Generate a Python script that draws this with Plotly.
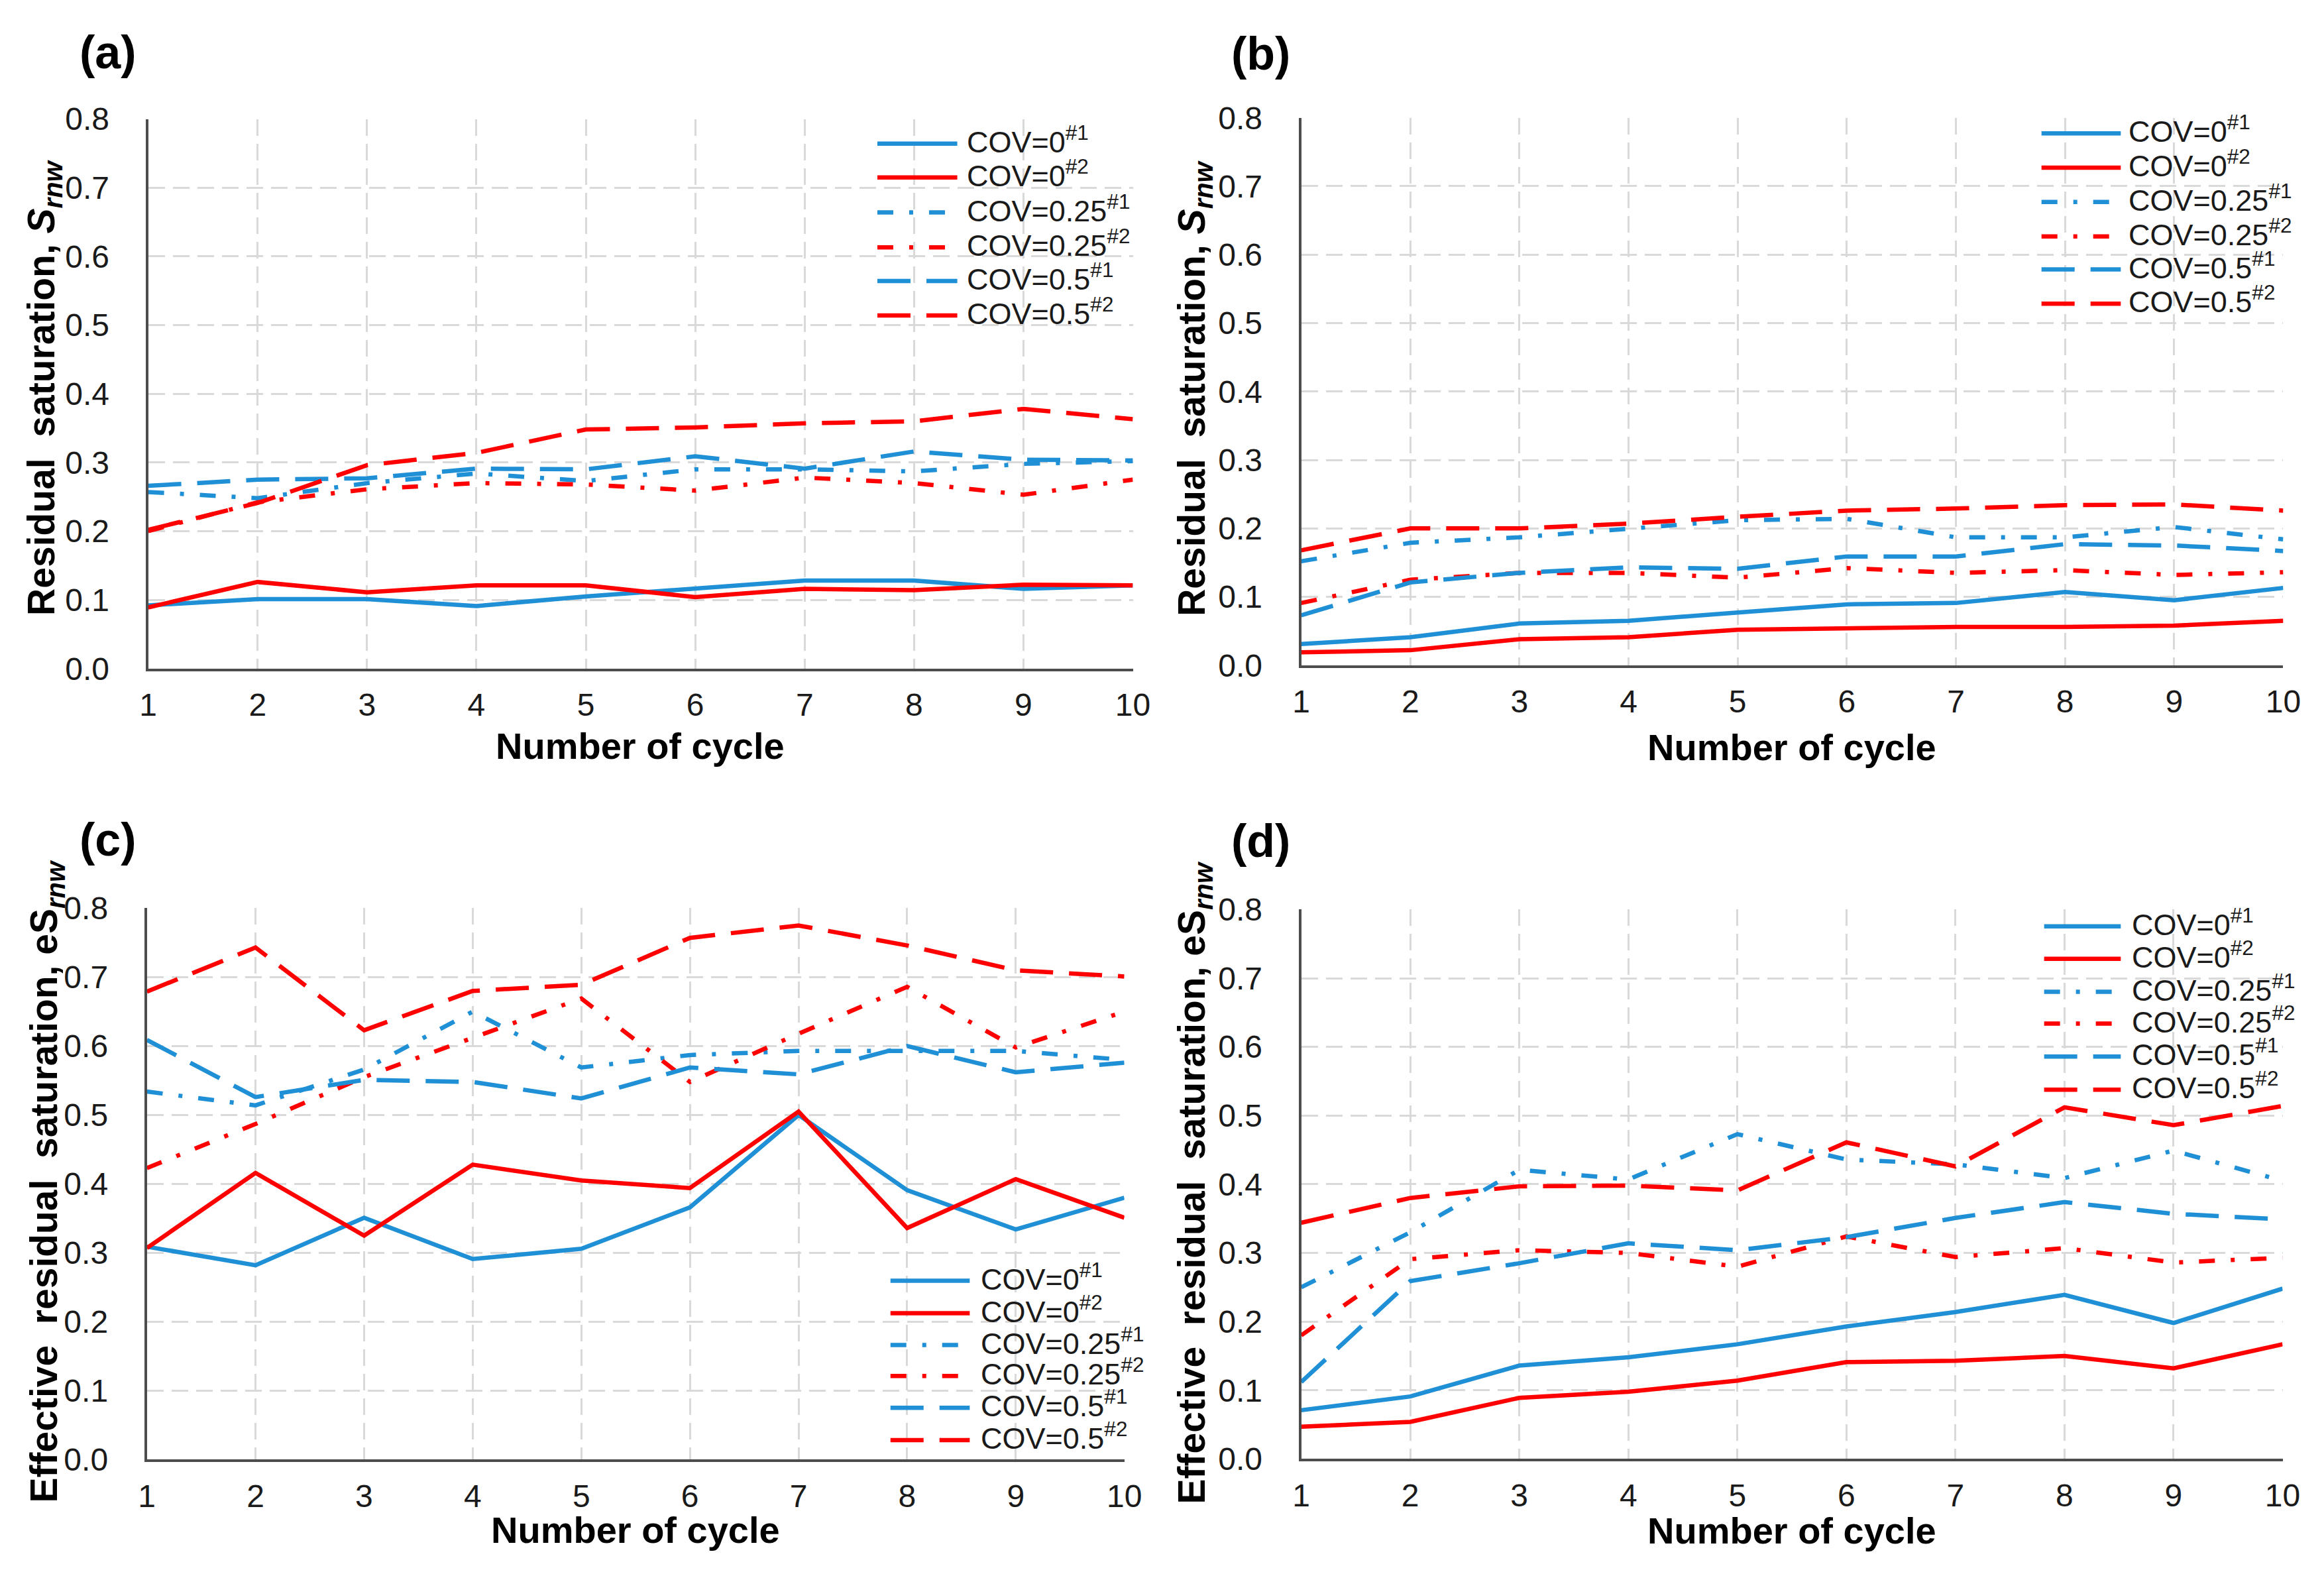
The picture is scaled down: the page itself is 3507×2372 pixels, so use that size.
import plotly.graph_objects as go

W, H = 3507, 2372

# ---------------- data ----------------
cycles = [1, 2, 3, 4, 5, 6, 7, 8, 9, 10]
tick_y = [0.0, 0.1, 0.2, 0.3, 0.4, 0.5, 0.6, 0.7, 0.8]

series_names = ["COV=0#1", "COV=0#2", "COV=0.25#1", "COV=0.25#2", "COV=0.5#1", "COV=0.5#2"]

# (a) Residual saturation, case 1
a_cov0_1 = [0.092, 0.101, 0.101, 0.091, 0.105, 0.117, 0.128, 0.128, 0.116, 0.121]
a_cov0_2 = [0.089, 0.126, 0.111, 0.121, 0.121, 0.104, 0.116, 0.114, 0.122, 0.121]
a_cov025_1 = [0.257, 0.248, 0.270, 0.284, 0.273, 0.290, 0.290, 0.287, 0.298, 0.302]
a_cov025_2 = [0.200, 0.242, 0.261, 0.270, 0.268, 0.259, 0.278, 0.270, 0.253, 0.275]
a_cov05_1 = [0.266, 0.275, 0.277, 0.291, 0.290, 0.309, 0.291, 0.316, 0.304, 0.303]
a_cov05_2 = [0.202, 0.241, 0.296, 0.314, 0.348, 0.351, 0.357, 0.360, 0.378, 0.363]

# (b) Residual saturation, case 2
b_cov0_1 = [0.031, 0.041, 0.061, 0.065, 0.077, 0.089, 0.091, 0.107, 0.095, 0.113]
b_cov0_2 = [0.019, 0.022, 0.038, 0.041, 0.052, 0.054, 0.056, 0.056, 0.058, 0.065]
b_cov025_1 = [0.152, 0.179, 0.187, 0.199, 0.212, 0.214, 0.187, 0.187, 0.202, 0.184]
b_cov025_2 = [0.091, 0.125, 0.135, 0.135, 0.128, 0.142, 0.135, 0.139, 0.132, 0.136]
b_cov05_1 = [0.073, 0.121, 0.135, 0.143, 0.141, 0.159, 0.159, 0.177, 0.175, 0.167]
b_cov05_2 = [0.168, 0.200, 0.200, 0.207, 0.217, 0.226, 0.229, 0.234, 0.235, 0.226]

# (c) Effective residual saturation, case 1
c_cov0_1 = [0.309, 0.282, 0.351, 0.291, 0.306, 0.366, 0.500, 0.391, 0.334, 0.380]
c_cov0_2 = [0.307, 0.416, 0.325, 0.428, 0.405, 0.394, 0.505, 0.336, 0.407, 0.351]
c_cov025_1 = [0.534, 0.514, 0.566, 0.650, 0.569, 0.587, 0.593, 0.593, 0.593, 0.580]
c_cov025_2 = [0.423, 0.487, 0.555, 0.612, 0.669, 0.548, 0.618, 0.686, 0.598, 0.650]
c_cov05_1 = [0.609, 0.526, 0.551, 0.548, 0.524, 0.569, 0.559, 0.600, 0.562, 0.576]
c_cov05_2 = [0.679, 0.743, 0.623, 0.680, 0.689, 0.757, 0.775, 0.746, 0.710, 0.701]

# (d) Effective residual saturation, case 2
d_cov0_1 = [0.071, 0.091, 0.136, 0.148, 0.167, 0.193, 0.214, 0.239, 0.198, 0.248]
d_cov0_2 = [0.047, 0.054, 0.089, 0.098, 0.114, 0.141, 0.143, 0.150, 0.132, 0.167]
d_cov025_1 = [0.250, 0.330, 0.421, 0.407, 0.473, 0.436, 0.429, 0.409, 0.449, 0.405]
d_cov025_2 = [0.180, 0.291, 0.304, 0.300, 0.280, 0.324, 0.294, 0.307, 0.286, 0.293]
d_cov05_1 = [0.112, 0.259, 0.285, 0.314, 0.304, 0.323, 0.351, 0.374, 0.357, 0.349]
d_cov05_2 = [0.344, 0.380, 0.397, 0.398, 0.391, 0.461, 0.426, 0.512, 0.486, 0.514]

panel_data = [
    [a_cov0_1, a_cov0_2, a_cov025_1, a_cov025_2, a_cov05_1, a_cov05_2],
    [b_cov0_1, b_cov0_2, b_cov025_1, b_cov025_2, b_cov05_1, b_cov05_2],
    [c_cov0_1, c_cov0_2, c_cov025_1, c_cov025_2, c_cov05_1, c_cov05_2],
    [d_cov0_1, d_cov0_2, d_cov025_1, d_cov025_2, d_cov05_1, d_cov05_2],
]
panel_labels = ["(a)", "(b)", "(c)", "(d)"]

# ---------------- styles ----------------
BLUE = "#1F8FD6"
RED = "#FF0000"
colors = [BLUE, RED, BLUE, RED, BLUE, RED]
DASHDOT = "24px,24px,6px,24px"
DASHED = "50px,24px"
dashes = ["solid", "solid", DASHDOT, DASHDOT, DASHED, DASHED]
LW = 6.5

TICKF = "Liberation Sans, Arial, sans-serif"
BOLDF = "Liberation Sans, Arial, sans-serif"

def px(x):
    return x / W

def py(y):
    return 1 - y / H

# plot areas in pixels: (left, right, top, bottom)
areas = [
    (205, 1708, 149, 997),
    (1965, 3464, 147, 992),
    (203, 1695, 1367, 2218),
    (1965, 3463, 1369, 2217),
]

fig = go.Figure()
layout = dict(
    width=W, height=H,
    margin=dict(l=0, r=0, t=0, b=0),
    paper_bgcolor="white", plot_bgcolor="white",
    showlegend=False,
)

annotations = []
shapes = []

for p in range(4):
    l, r, t, b = areas[p]
    sfx = "" if p == 0 else str(p + 1)
    xa = "xaxis" + sfx
    ya = "yaxis" + sfx
    layout[xa] = dict(
        domain=[px(l), px(r)], range=[1, 10], anchor="y" + sfx,
        tickmode="array", tickvals=cycles, ticktext=[str(c) for c in cycles],
        showgrid=True, gridcolor="#D9D9D9", gridwidth=3, griddash="25px,12px",
        showline=True, linecolor="#4D4D4D", linewidth=4,
        zeroline=False, ticks="", ticklabelstandoff=10,
        tickfont=dict(family=TICKF, size=48, color="#1A1A1A"),
    )
    layout[ya] = dict(
        domain=[py(b), py(t)], range=[0, 0.8], anchor="x" + sfx,
        tickmode="array", tickvals=tick_y, ticktext=["%.1f" % v for v in tick_y],
        showgrid=True, gridcolor="#D9D9D9", gridwidth=3, griddash="25px,12px",
        showline=True, linecolor="#4D4D4D", linewidth=4,
        zeroline=False, ticks="", ticklabelstandoff=45,
        tickfont=dict(family=TICKF, size=48, color="#1A1A1A"),
    )
    for i, ys in enumerate(panel_data[p]):
        fig.add_trace(go.Scatter(
            x=cycles, y=ys, mode="lines", name=series_names[i],
            xaxis="x" + sfx, yaxis="y" + sfx,
            line=dict(color=colors[i], width=LW, dash=dashes[i]),
        ))

# panel labels
label_pos = [(98, 46), (1856, 48), (98, 1261), (1856, 1263)]
for p in range(4):
    annotations.append(dict(
        text="<b>" + panel_labels[p] + "</b>", xref="paper", yref="paper",
        x=px(label_pos[p][0]), y=py(label_pos[p][1]), xanchor="left", yanchor="middle",
        showarrow=False, font=dict(family=BOLDF, size=70, color="black"),
    ))

# axis titles
ytitle_top = "<b>Residual\u00a0\u00a0saturation,\u00a0<i>S<sub>rnw</sub></i></b>"
ytitle_bot = "<b>Effective\u00a0\u00a0residual\u00a0\u00a0saturation,\u00a0eS<sub><i>rnw</i></sub></b>"
ytitles = [ytitle_top, ytitle_top, ytitle_bot, ytitle_bot]
ytitle_pos = [(46, 563), (1802, 564), (50, 1788), (1802, 1790)]
xtitle_pos = [(956, 1116), (2714, 1118), (949, 2326), (2714, 2328)]
for p in range(4):
    annotations.append(dict(
        text=ytitles[p], xref="paper", yref="paper", textangle=-90,
        x=px(ytitle_pos[p][0]), y=py(ytitle_pos[p][1]), xanchor="center", yanchor="middle",
        showarrow=False, font=dict(family=BOLDF, size=57, color="black"),
    ))
    annotations.append(dict(
        text="<b>Number of cycle</b>", xref="paper", yref="paper",
        x=px(xtitle_pos[p][0]), y=py(xtitle_pos[p][1]), xanchor="center", yanchor="middle",
        showarrow=False, font=dict(family=BOLDF, size=56, color="black"),
    ))

# custom legends (key line + label), positions in pixels
legend_box = [
    (1318, 1440, 1453, [187, 239, 293, 347, 399, 452]),
    (3095, 3216, 3226, [171, 224, 277, 330, 381, 434]),
    (1338, 1459, 1474, [1942, 1992, 2041, 2089, 2138, 2188]),
    (3099, 3216, 3231, [1395, 1445, 1496, 1545, 1596, 1647]),
]
for p in range(4):
    x0, x1, xt, rows = legend_box[p]
    for i, name in enumerate(series_names):
        base, sup = name.split("#")
        shapes.append(dict(
            type="line", xref="paper", yref="paper",
            x0=px(x0), x1=px(x1), y0=py(rows[i]), y1=py(rows[i]),
            line=dict(color=colors[i], width=LW, dash=dashes[i]),
        ))
        annotations.append(dict(
            text=base + "<sup>#" + sup + "</sup>", xref="paper", yref="paper",
            x=px(xt), y=py(rows[i] - 6), xanchor="left", yanchor="middle",
            showarrow=False, font=dict(family=TICKF, size=45, color="#1A1A1A"),
        ))

layout["annotations"] = annotations
layout["shapes"] = shapes
fig.update_layout(**layout)
fig.write_html("out.html")
